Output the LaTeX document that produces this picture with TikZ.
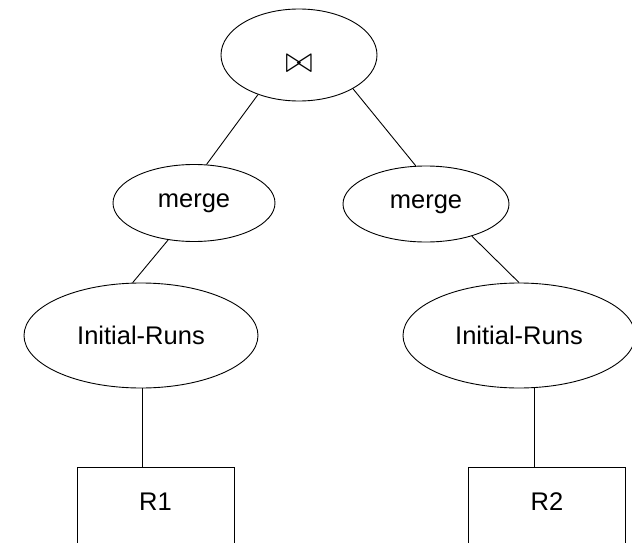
\documentclass[tikz,border=0pt]{standalone}
\usepackage{fontspec}
\setmainfont{Liberation Sans}
\usepackage{graphicx}
\usepackage{tikz}
\usetikzlibrary{shapes.geometric}

\begin{document}
\begin{tikzpicture}[x=1pt,y=-1pt,line width=0.9pt,
  op/.style={shape=ellipse,draw=black,inner sep=0pt,font=\fontsize{25.5}{30}\selectfont},
  rel/.style={shape=rectangle,draw=black,anchor=north,minimum width=157pt,inner xsep=0pt,inner ysep=25pt,text height=18pt,text depth=60pt,font=\fontsize{25.5}{30}\selectfont}]
\useasboundingbox (0,0) rectangle (632,543);
\clip (0,0) rectangle (632,543);
\node[op,minimum width=156pt,minimum height=92pt,text height=36pt,text depth=0pt] (J) at (299,55) {\scalebox{1.35}[1.5]{$\bowtie$}};
\node[op,minimum width=162pt,minimum height=77pt] (M1) at (194,203) {merge};
\node[op,minimum width=166pt,minimum height=76pt] (M2) at (426,204) {merge};
\node[op,minimum width=234pt,minimum height=105pt] (I1) at (141,335.5) {Initial-Runs};
\node[op,minimum width=232pt,minimum height=105pt] (I2) at (519,335.5) {Initial-Runs};
\node[rel] (R1) at (155.5,467) {R1};
\node[rel] (R2) at (547,467) {R2};
\draw (J.224) -- (M1.72);
\draw (J.328) -- (M2.105);
\draw (M1.235) -- (I1.99);
\draw (M2.325) -- (I2.north);
\draw (I1.272) -- (I1.272 |- R1.north);
\draw (I2.286) -- (I2.286 |- R2.north);
\end{tikzpicture}
\end{document}
